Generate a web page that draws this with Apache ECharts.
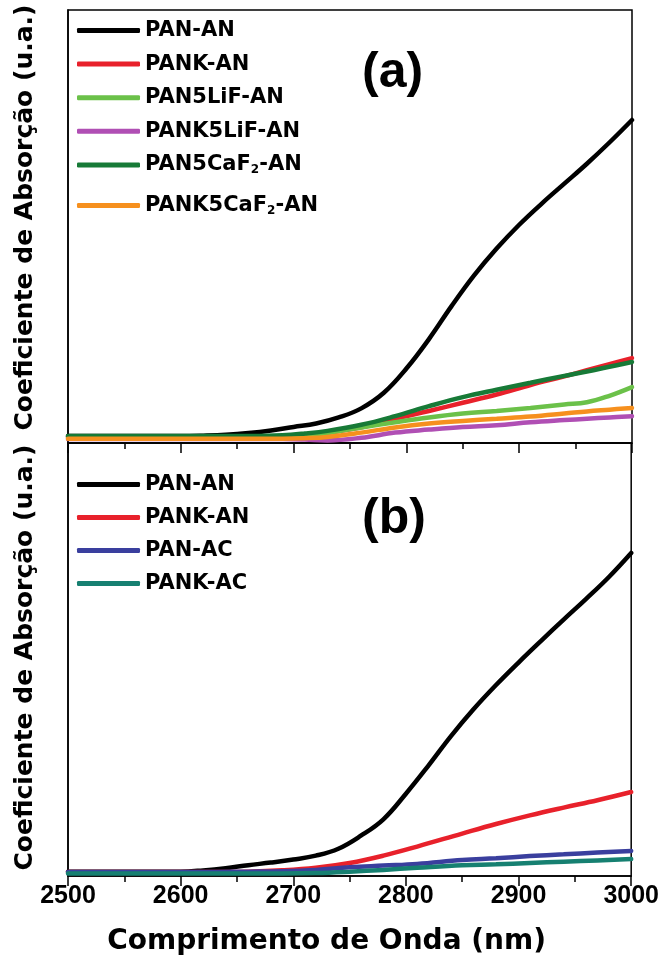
<!DOCTYPE html>
<html>
<head>
<meta charset="utf-8">
<script src="https://cdn.jsdelivr.net/npm/echarts@6/dist/echarts.min.js"></script>
<style>
  html, body { margin: 0; padding: 0; background: #fff; }
  #chart { width: 662px; height: 964px; }
</style>
</head>
<body>
<div id="chart"></div>
<script>
// Absorption coefficient (arbitrary units) vs wavelength, two stacked panels.

// Wavelength ticks (nm)
const xTicks = [2500, 2600, 2700, 2800, 2900, 3000];

// ---- Panel (a) ----
const aBlackX = [2500, 2600, 2620, 2640, 2660, 2680, 2700, 2720, 2740, 2760, 2780, 2800, 2820, 2840, 2860, 2880, 2900, 2920, 2940, 2960, 2980, 3000];
const aPanAN  = [1.6, 1.6, 1.7, 1.9, 2.3, 2.9, 3.7, 4.5, 5.9, 8.0, 11.6, 17.2, 24.0, 31.6, 38.7, 44.9, 50.4, 55.3, 59.9, 64.5, 69.4, 74.6];

const aX = [2500, 2650, 2690, 2710, 2730, 2760, 2790, 2820, 2850, 2880, 2910, 2940, 2960, 2980, 3000];
const aPankAN     = [1.4, 1.4, 1.5, 1.8, 2.4, 3.6, 5.6, 7.4, 9.3, 11.2, 13.4, 15.4, 16.8, 18.2, 19.6];
const aPan5LiF    = [1.4, 1.4, 1.5, 1.7, 2.3, 3.6, 4.8, 5.9, 6.8, 7.4, 8.1, 8.9, 9.4, 10.9, 12.9];
const aPank5LiF   = [0.9, 0.9, 0.9, 0.8, 0.6, 1.2, 2.4, 3.1, 3.7, 4.1, 4.8, 5.3, 5.6, 5.9, 6.2];
const aPan5CaF2   = [1.6, 1.6, 1.8, 2.2, 2.8, 4.2, 6.2, 8.5, 10.6, 12.3, 13.9, 15.5, 16.5, 17.6, 18.7];
const aPank5CaF2  = [1.0, 1.0, 1.0, 1.1, 1.4, 2.4, 3.6, 4.5, 5.1, 5.6, 6.1, 6.8, 7.3, 7.7, 8.1];

// ---- Panel (b) ----
const bBlackX = [2500, 2600, 2620, 2640, 2660, 2680, 2700, 2720, 2740, 2760, 2780, 2800, 2820, 2840, 2860, 2880, 2900, 2920, 2940, 2960, 2980, 3000];
const bPanAN  = [1.0, 1.0, 1.3, 1.8, 2.5, 3.1, 3.8, 4.7, 6.3, 9.3, 13.1, 19.0, 25.5, 32.3, 38.5, 44.1, 49.3, 54.3, 59.2, 64.0, 69.0, 74.6];

const bX = [2500, 2620, 2660, 2690, 2720, 2750, 2780, 2810, 2850, 2880, 2910, 2940, 2970, 3000];
const bPankAN = [0.9, 0.9, 1.0, 1.3, 1.9, 3.0, 4.7, 6.8, 9.8, 12.0, 14.0, 15.8, 17.5, 19.4];
const bPanAC  = [0.9, 0.9, 1.0, 1.1, 1.4, 2.0, 2.4, 2.8, 3.7, 4.1, 4.6, 5.0, 5.4, 5.8];
const bPankAC = [0.6, 0.6, 0.6, 0.6, 0.7, 1.0, 1.4, 1.9, 2.5, 2.7, 3.0, 3.3, 3.6, 3.9];

const seriesNamesA = ['PAN-AN', 'PANK-AN', 'PAN5LiF-AN', 'PANK5LiF-AN', 'PAN5CaF2-AN', 'PANK5CaF2-AN'];
const seriesNamesB = ['PAN-AN ', 'PANK-AN ', 'PAN-AC', 'PANK-AC'];

const colorsA = ['#000000', '#e8212b', '#6bc149', '#b04fb4', '#177a37', '#f6901e'];
const colorsB = ['#000000', '#e8212b', '#3a3f9e', '#168071'];

const FONT = 'DejaVu Sans';
const FONT_ARIAL = 'Liberation Sans';

function pairs(xs, ys) { return xs.map((x, i) => [x, ys[i]]); }

function lineSeries(name, color, data, panel) {
  return {
    name: name,
    type: 'line',
    xAxisIndex: panel,
    yAxisIndex: panel,
    data: data,
    smooth: 0.4,
    symbol: 'none',
    lineStyle: { color: color, width: 4.5, cap: 'round' },
    itemStyle: { color: color },
    emphasis: { disabled: true },
    animation: false
  };
}

const dataA = [aPanAN, aPankAN, aPan5LiF, aPank5LiF, aPan5CaF2, aPank5CaF2];
const xsA = [aBlackX, aX, aX, aX, aX, aX];
const dataB = [bPanAN, bPankAN, bPanAC, bPankAC];
const xsB = [bBlackX, bX, bX, bX];

const series = [];
seriesNamesA.forEach((n, i) => series.push(lineSeries(n, colorsA[i], pairs(xsA[i], dataA[i]), 0)));
seriesNamesB.forEach((n, i) => series.push(lineSeries(n, colorsB[i], pairs(xsB[i], dataB[i]), 1)));

// Legend labels: "CaF2" gets a subscript 2
function legendLabel(name) {
  const t = name.trim();
  const k = t.indexOf('CaF2');
  if (k < 0) return '{b|' + t + '}';
  return '{b|' + t.slice(0, k + 3) + '}{s|2}{b|' + t.slice(k + 4) + '}';
}
const legendRich = {
  b: { fontFamily: FONT, fontWeight: 'bold', fontSize: 21, lineHeight: 22, color: '#000' },
  s: { fontFamily: FONT, fontWeight: 'bold', fontSize: 12, lineHeight: 2, verticalAlign: 'bottom', color: '#000' }
};
function legendBlock(names, top, gap) {
  return {
    orient: 'vertical',
    left: 72,
    top: top,
    itemWidth: 63,
    itemHeight: 5,
    itemGap: gap,
    icon: 'roundRect',
    selectedMode: false,
    data: names,
    formatter: legendLabel,
    textStyle: { rich: legendRich, padding: [0, 0, 0, 0] }
  };
}

const axisLineStyle = { color: '#000', width: 1.5 };

function xAxis(panel, showLabels) {
  return {
    type: 'value',
    gridIndex: panel,
    min: 2500,
    max: 3000,
    interval: 100,
    position: 'bottom',
    axisLine: { show: true, lineStyle: axisLineStyle },
    axisTick: { show: true, inside: false, length: 10, lineStyle: { color: '#000', width: 1.5 } },
    minorTick: { show: true, splitNumber: 2, length: 6, lineStyle: { color: '#000', width: 1.5 } },
    splitLine: { show: false },
    axisLabel: {
      show: showLabels,
      fontFamily: FONT_ARIAL,
      fontWeight: 'bold',
      fontSize: 25,
      color: '#000',
      margin: 8,
      formatter: v => (xTicks.indexOf(v) >= 0 ? String(v) : '')
    },
    name: showLabels ? 'Comprimento de Onda (nm)' : '',
    nameLocation: 'middle',
    nameGap: 52,
    nameTextStyle: { fontFamily: FONT, fontWeight: 'bold', fontSize: 28, color: '#000', padding: [0, 46, 0, 0] }
  };
}

function yAxis(panel, shift) {
  return {
    type: 'value',
    gridIndex: panel,
    min: 0,
    max: 100,
    axisLine: { show: true, lineStyle: axisLineStyle },
    axisTick: { show: false },
    axisLabel: { show: false },
    splitLine: { show: false },
    name: 'Coeficiente de Absorção (u.a.)',
    nameLocation: 'middle',
    nameGap: 30,
    nameRotate: 90,
    nameTextStyle: { fontFamily: FONT, fontWeight: 'bold', fontSize: 25, color: '#000', padding: [0, 0, 0, shift] }
  };
}

const option = {
  backgroundColor: '#ffffff',
  animation: false,
  grid: [
    { left: 68, right: 30, top: 10, height: 433, show: true, borderColor: '#000', borderWidth: 1.5, backgroundColor: 'transparent' },
    { left: 68, right: 30, top: 443, height: 433, show: true, borderColor: '#000', borderWidth: 1.5, backgroundColor: 'transparent' }
  ],
  xAxis: [xAxis(0, false), xAxis(1, true)],
  yAxis: [yAxis(0, 18), yAxis(1, 4)],
  legend: [
    legendBlock(seriesNamesA.slice(0, 5), 15, 12.6),
    legendBlock(seriesNamesA.slice(5), 190, 10),
    legendBlock(seriesNamesB, 469, 12)
  ],
  graphic: [
    { type: 'text', left: 362, top: 48, style: { text: '(a)', fontFamily: FONT_ARIAL, fontWeight: 'bold', fontSize: 50, fill: '#000' } },
    { type: 'text', left: 362, top: 494, style: { text: '(b)', fontFamily: FONT_ARIAL, fontWeight: 'bold', fontSize: 50, fill: '#000' } }
  ],
  series: series
};

const chart = echarts.init(document.getElementById('chart'), null, { renderer: 'canvas' });
chart.setOption(option);
</script>
</body>
</html>
